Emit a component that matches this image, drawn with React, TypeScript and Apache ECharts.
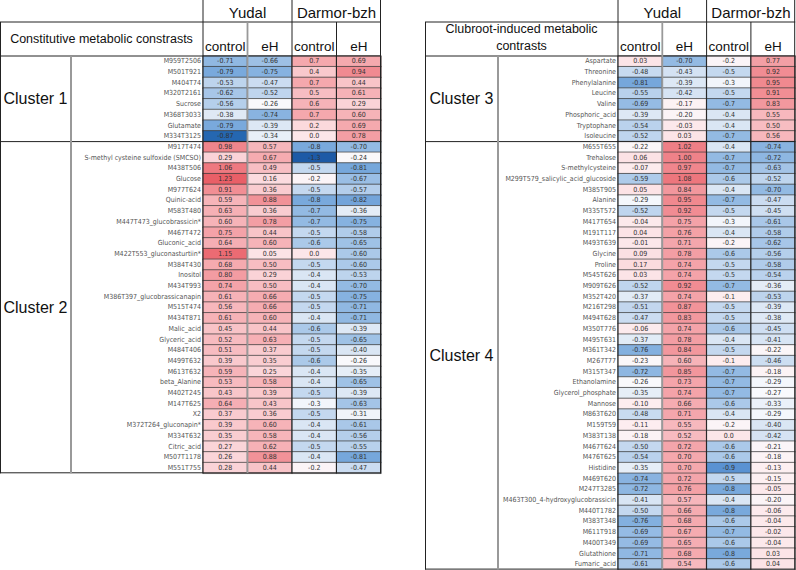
import React, { useEffect, useRef } from "react";
import * as echarts from "echarts";

// ---------- DATA ----------
const columnNames = ["control", "eH", "control", "eH"];
const groupNames = ["Yudal", "Darmor-bzh"];
const decimals = [2, 2, 1, 2];

const leftTitle = "Constitutive metabolic constrasts";
const rightTitle = ["Clubroot-induced metabolic", "contrasts"];

const leftClusters = [
  { name: "Cluster 1", size: 8 },
  { name: "Cluster 2", size: 31 },
];
const rightClusters = [
  { name: "Cluster 3", size: 8 },
  { name: "Cluster 4", size: 40 },
];

const leftLabels = [
  "M959T2506", "M501T921", "M404T74", "M320T2161", "Sucrose", "M368T3033", "Glutamate", "M334T3125",
  "M917T474", "S-methyl cysteine sulfoxide (SMCSO)", "M438T506", "Glucose", "M977T624", "Quinic-acid",
  "M583T480", "M447T473_glucobrassicin*", "M467T472", "Gluconic_acid", "M422T553_gluconasturtiin*",
  "M384T430", "Inositol", "M434T993", "M386T397_glucobrassicanapin", "M515T474", "M434T871",
  "Malic_acid", "Glyceric_acid", "M484T406", "M499T632", "M613T632", "beta_Alanine", "M402T245",
  "M147T625", "X2", "M372T264_gluconapin*", "M334T632", "Citric_acid", "M507T1178", "M551T755",
];
const leftYudalControl = [
  -0.71, -0.79, -0.53, -0.62, -0.56, -0.38, -0.79, -0.87,
  0.98, 0.29, 1.06, 1.23, 0.91, 0.59, 0.63, 0.60, 0.75, 0.64, 1.15, 0.68, 0.80, 0.74, 0.61, 0.56,
  0.61, 0.45, 0.52, 0.51, 0.39, 0.59, 0.53, 0.43, 0.64, 0.37, 0.39, 0.35, 0.27, 0.26, 0.28,
];
const leftYudalEH = [
  -0.66, -0.75, -0.47, -0.52, -0.26, -0.74, -0.39, -0.34,
  0.57, 0.67, 0.49, 0.16, 0.36, 0.88, 0.36, 0.78, 0.44, 0.60, 0.05, 0.50, 0.29, 0.50, 0.66, 0.66,
  0.60, 0.44, 0.63, 0.37, 0.35, 0.25, 0.58, 0.39, 0.43, 0.36, 0.60, 0.58, 0.62, 0.88, 0.44,
];
const leftDarmorControl = [
  0.7, 0.4, 0.7, 0.5, 0.6, 0.7, 0.2, 0.0,
  -0.8, -1.3, -0.5, -0.2, -0.5, -0.8, -0.7, -0.7, -0.5, -0.6, 0.0, -0.5, -0.4, -0.4, -0.5, -0.5,
  -0.4, -0.6, -0.5, -0.5, -0.6, -0.4, -0.4, -0.5, -0.3, -0.5, -0.4, -0.4, -0.5, -0.4, -0.2,
];
const leftDarmorEH = [
  0.69, 0.94, 0.44, 0.61, 0.29, 0.60, 0.69, 0.78,
  -0.70, -0.24, -0.81, -0.67, -0.57, -0.82, -0.36, -0.75, -0.58, -0.65, -0.60, -0.60, -0.53, -0.70,
  -0.75, -0.71, -0.71, -0.39, -0.65, -0.40, -0.26, -0.35, -0.65, -0.39, -0.63, -0.31, -0.61, -0.56,
  -0.55, -0.81, -0.47,
];

const rightLabels = [
  "Aspartate", "Threonine", "Phenylalanine", "Leucine", "Valine", "Phosphoric_acid", "Tryptophane", "Isoleucine",
  "M655T655", "Trehalose", "S-methylcysteine", "M299T579_salicylic_acid_glucoside", "M385T905", "Alanine",
  "M335T572", "M417T654", "M191T117", "M493T639", "Glycine", "Proline", "M545T626", "M909T626", "M352T420",
  "M216T298", "M494T628", "M350T776", "M495T631", "M361T342", "M267T77", "M315T347", "Ethanolamine",
  "Glycerol_phosphate", "Mannose", "M863T620", "M159T59", "M383T138", "M467T624", "M476T625", "Histidine",
  "M469T620", "M247T3285", "M463T300_4-hydroxyglucobrassicin", "M440T1782", "M383T348", "M611T918",
  "M400T349", "Glutathione", "Fumaric_acid",
];
const rightYudalControl = [
  0.03, -0.48, -0.81, -0.55, -0.69, -0.39, -0.54, -0.52,
  -0.22, 0.06, -0.07, -0.59, 0.05, -0.29, -0.52, -0.04, 0.04, -0.01, 0.09, 0.17, 0.03, -0.52, -0.37,
  -0.51, -0.47, -0.06, -0.37, -0.76, -0.23, -0.72, -0.26, -0.35, -0.10, -0.48, -0.11, -0.18, -0.50,
  -0.54, -0.35, -0.74, -0.72, -0.41, -0.50, -0.76, -0.69, -0.69, -0.71, -0.61,
];
const rightYudalEH = [
  -0.70, -0.43, -0.39, -0.42, -0.17, -0.20, -0.03, 0.03,
  1.02, 1.00, 0.97, 1.08, 0.84, 0.95, 0.92, 0.75, 0.76, 0.71, 0.78, 0.74, 0.74, 0.92, 0.74, 0.87, 0.83,
  0.74, 0.78, 0.84, 0.60, 0.85, 0.73, 0.74, 0.66, 0.71, 0.55, 0.52, 0.72, 0.70, 0.70, 0.72, 0.76, 0.57,
  0.66, 0.68, 0.67, 0.65, 0.68, 0.54,
];
const rightDarmorControl = [
  -0.2, -0.5, -0.3, -0.5, -0.7, -0.4, -0.4, -0.7,
  -0.4, -0.7, -0.7, -0.6, -0.4, -0.7, -0.5, -0.3, -0.4, -0.2, -0.6, -0.5, -0.5, -0.7, -0.1, -0.5, -0.5,
  -0.6, -0.4, -0.5, -0.1, -0.7, -0.7, -0.7, -0.6, -0.4, -0.2, 0.0, -0.6, -0.6, -0.9, -0.5, -0.8, -0.4,
  -0.8, -0.6, -0.7, -0.6, -0.8, -0.6,
];
const rightDarmorEH = [
  0.77, 0.92, 0.95, 0.91, 0.83, 0.55, 0.50, 0.56,
  -0.74, -0.72, -0.63, -0.52, -0.70, -0.47, -0.45, -0.61, -0.58, -0.62, -0.56, -0.58, -0.54, -0.36,
  -0.53, -0.39, -0.38, -0.45, -0.41, -0.22, -0.46, -0.18, -0.29, -0.27, -0.33, -0.29, -0.40, -0.42,
  -0.21, -0.18, -0.13, -0.15, -0.05, -0.20, -0.06, -0.04, -0.02, -0.04, 0.03, 0.04,
];

// ---------- STYLE ----------
const baseAnchors: [number, string][] = [
  [-1.3, "#1d5aa6"],
  [-0.9, "#5a92d2"],
  [-0.8, "#79a9dc"],
  [-0.7, "#93bae3"],
  [-0.5, "#c4d8ef"],
  [-0.38, "#dfe9f5"],
  [-0.27, "#f9fafd"],
  [-0.15, "#fdf0f2"],
  [0.0, "#fce6e9"],
  [0.3, "#fad2d6"],
  [0.6, "#f6b3b8"],
  [0.8, "#f39ca2"],
  [1.0, "#ef8289"],
  [1.25, "#e95c64"],
];
const darkMinAnchors: [number, string][] = [
  [-1.3, "#1d5aa6"],
  [-0.87, "#2567b1"],
  [-0.82, "#6a9ed8"],
  [-0.79, "#79a9dc"],
  ...baseAnchors.slice(3),
];
const VMIN = -1.3;
const VMAX = 1.25;

function hexToRgb(h: string) {
  const n = parseInt(h.slice(1), 16);
  return [(n >> 16) & 255, (n >> 8) & 255, n & 255];
}
function sampleColors(anchors: [number, string][], n: number) {
  const out: string[] = [];
  for (let i = 0; i < n; i++) {
    const v = VMIN + ((VMAX - VMIN) * i) / (n - 1);
    let k = 0;
    while (k < anchors.length - 2 && v > anchors[k + 1][0]) k++;
    const [v0, c0] = anchors[k];
    const [v1, c1] = anchors[k + 1];
    const t = Math.max(0, Math.min(1, (v - v0) / (v1 - v0)));
    const a = hexToRgb(c0);
    const b = hexToRgb(c1);
    const c = a.map((x, j) => Math.round(x + (b[j] - x) * t));
    out.push(`rgb(${c[0]},${c[1]},${c[2]})`);
  }
  return out;
}

const FONT = "Liberation Sans, Arial, sans-serif";
const NARROW = "Liberation Sans Narrow, DejaVu Sans Condensed, sans-serif";
const TOP = 56;
const ROW_H = 10.7;

const tables = [
  {
    x0: 0, xLab: 71, xGrid: 203, colW: 44.5,
    labels: leftLabels, clusters: leftClusters,
    cols: [leftYudalControl, leftYudalEH, leftDarmorControl, leftDarmorEH],
    anchors: [darkMinAnchors, baseAnchors, baseAnchors, baseAnchors],
  },
  {
    x0: 425, xLab: 498, xGrid: 618, colW: 44.3,
    labels: rightLabels, clusters: rightClusters,
    cols: [rightYudalControl, rightYudalEH, rightDarmorControl, rightDarmorEH],
    anchors: [baseAnchors, baseAnchors, baseAnchors, baseAnchors],
  },
];

export default function App() {
  const ref = useRef<HTMLDivElement>(null);
  useEffect(() => {
    if (!ref.current) return;
    const chart = echarts.init(ref.current, undefined, { renderer: "svg" });

    const grid: any[] = [];
    const xAxis: any[] = [];
    const yAxis: any[] = [];
    const series: any[] = [];
    const visualMap: any[] = [];
    const graphic: any[] = [];

    const line = (x1: number, y1: number, x2: number, y2: number, stroke = "#222", lw = 1) =>
      graphic.push({ type: "line", silent: true, z: 100, shape: { x1, y1, x2, y2 }, style: { stroke, lineWidth: lw } });
    const text = (x: number, y: number, t: string, size: number, extra: any = {}) =>
      graphic.push({
        type: "text", silent: true, z: 100, x, y,
        style: { text: t, fontSize: size, fontFamily: FONT, fill: "#111", align: "center", verticalAlign: "middle", ...extra },
      });

    tables.forEach((tb, ti) => {
      const n = tb.labels.length;
      const gw = tb.colW * 4;
      const gh = ROW_H * n;
      grid.push({ left: tb.xGrid, top: TOP, width: gw, height: gh });
      xAxis.push({
        type: "category", gridIndex: ti, position: "top", data: columnNames,
        axisLine: { show: false }, axisTick: { show: false }, splitLine: { show: false },
        axisLabel: { interval: 0, fontSize: 13.5, fontFamily: FONT, color: "#111", margin: 3 },
      });
      yAxis.push({
        type: "category", gridIndex: ti, inverse: true, data: tb.labels,
        axisLine: { show: false }, axisTick: { show: false }, splitLine: { show: false },
        axisLabel: { interval: 0, fontSize: 7, fontFamily: NARROW, color: "#555", margin: 2 },
      });
      tb.cols.forEach((vals, ci) => {
        const si = series.length;
        series.push({
          type: "heatmap", xAxisIndex: ti, yAxisIndex: ti,
          data: vals.map((v, ri) => [ci, ri, v]),
          label: {
            show: true, fontSize: 7, fontFamily: NARROW, color: "#333",
            formatter: (p: any) => Number(p.value[2]).toFixed(decimals[ci]),
          },
          itemStyle: { borderColor: "#3a3a3a", borderWidth: 0.7 },
          emphasis: { disabled: true },
        });
        visualMap.push({
          type: "continuous", show: false, seriesIndex: si, dimension: 2,
          min: VMIN, max: VMAX, inRange: { color: sampleColors(tb.anchors[ci], 256) },
        });
      });

      const xR = tb.xGrid + gw;
      const yB = TOP + gh;
      // horizontal rules
      line(tb.x0, 22, xR, 22);
      line(tb.x0, TOP, xR, TOP);
      let acc = 0;
      tb.clusters.forEach((cl, k) => {
        const y0 = TOP + acc * ROW_H;
        acc += cl.size;
        const y1 = TOP + acc * ROW_H;
        if (k > 0) line(tb.x0, y0, xR, y0);
        text((tb.x0 + tb.xLab) / 2, (y0 + y1) / 2, cl.name, 16);
      });
      line(tb.x0, yB - 0.5, xR, yB - 0.5);
      // vertical rules
      line(tb.x0 + 0.5, 22, tb.x0 + 0.5, yB);
      line(tb.xLab, TOP, tb.xLab, yB, "#999", 2);
      line(tb.xGrid, 0, tb.xGrid, yB);
      line(tb.xGrid + tb.colW, 22, tb.xGrid + tb.colW, yB, "#999", 1.8);
      line(tb.xGrid + 2 * tb.colW, 0, tb.xGrid + 2 * tb.colW, yB);
      line(tb.xGrid + 3 * tb.colW, 22, tb.xGrid + 3 * tb.colW, yB);
      line(xR - 0.5, 0, xR - 0.5, yB);
      // group headers
      groupNames.forEach((g, gi) => {
        text(tb.xGrid + tb.colW * (2 * gi + 1), 12, g, 15);
      });
    });

    text((tables[0].x0 + tables[0].xGrid) / 2, 39, leftTitle, 12.5);
    text((tables[1].x0 + tables[1].xGrid) / 2, 29, rightTitle[0], 12.5);
    text((tables[1].x0 + tables[1].xGrid) / 2, 46, rightTitle[1], 12.5);

    chart.setOption({
      animation: false,
      backgroundColor: "#ffffff",
      grid, xAxis, yAxis, series, visualMap, graphic,
    });
    return () => chart.dispose();
  }, []);
  return (
    <div
      ref={ref}
      style={{ position: "fixed", left: 0, top: 0, width: 796, height: 570, background: "#fff" }}
    />
  );
}
